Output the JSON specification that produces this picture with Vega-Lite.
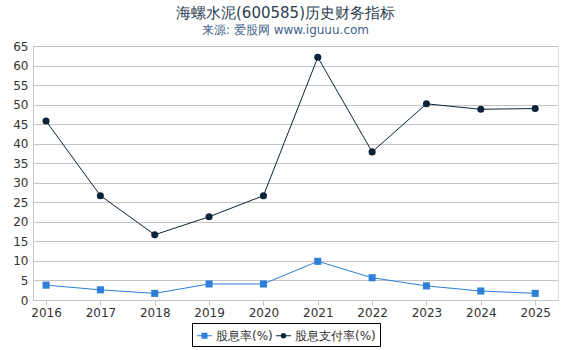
{
  "$schema": "https://vega.github.io/schema/vega-lite/v6.json",
  "width": 525,
  "height": 254,
  "autosize": {"type": "none"},
  "padding": {"left": 33, "top": 46, "right": 12, "bottom": 50},
  "background": "#ffffff",
  "title": {
    "text": "海螺水泥(600585)历史财务指标",
    "subtitle": "来源: 爱股网 www.iguuu.com",
    "anchor": "middle",
    "dx": -10,
    "offset": 4,
    "font": "DejaVu Sans",
    "fontSize": 15,
    "fontWeight": "normal",
    "color": "#2d3e50",
    "subtitleFont": "DejaVu Sans",
    "subtitleFontSize": 12,
    "subtitleColor": "#3e5f8a",
    "subtitlePadding": 4
  },
  "data": {
    "values": [
      {"year": 2016, "series": "股息率(%)", "value": 3.8},
      {"year": 2017, "series": "股息率(%)", "value": 2.6},
      {"year": 2018, "series": "股息率(%)", "value": 1.7},
      {"year": 2019, "series": "股息率(%)", "value": 4.1},
      {"year": 2020, "series": "股息率(%)", "value": 4.1},
      {"year": 2021, "series": "股息率(%)", "value": 9.9},
      {"year": 2022, "series": "股息率(%)", "value": 5.7},
      {"year": 2023, "series": "股息率(%)", "value": 3.6},
      {"year": 2024, "series": "股息率(%)", "value": 2.3},
      {"year": 2025, "series": "股息率(%)", "value": 1.7},
      {"year": 2016, "series": "股息支付率(%)", "value": 45.8},
      {"year": 2017, "series": "股息支付率(%)", "value": 26.7},
      {"year": 2018, "series": "股息支付率(%)", "value": 16.7},
      {"year": 2019, "series": "股息支付率(%)", "value": 21.3},
      {"year": 2020, "series": "股息支付率(%)", "value": 26.7},
      {"year": 2021, "series": "股息支付率(%)", "value": 62.1},
      {"year": 2022, "series": "股息支付率(%)", "value": 37.9},
      {"year": 2023, "series": "股息支付率(%)", "value": 50.2},
      {"year": 2024, "series": "股息支付率(%)", "value": 48.8},
      {"year": 2025, "series": "股息支付率(%)", "value": 49.0}
    ]
  },
  "encoding": {
    "x": {
      "field": "year",
      "type": "quantitative",
      "scale": {"domain": [2015.76, 2025.42], "nice": false, "zero": false},
      "axis": {
        "title": null,
        "values": [2016, 2017, 2018, 2019, 2020, 2021, 2022, 2023, 2024, 2025],
        "format": "d",
        "grid": false,
        "domainColor": "#c8c8c8",
        "tickColor": "#c8c8c8",
        "tickSize": 5,
        "labelFont": "DejaVu Sans",
        "labelFontSize": 12,
        "labelColor": "#333333",
        "labelPadding": 2,
        "labelFlush": false
      }
    },
    "y": {
      "field": "value",
      "type": "quantitative",
      "scale": {"domain": [0, 65], "nice": false},
      "axis": {
        "title": null,
        "values": [0, 5, 10, 15, 20, 25, 30, 35, 40, 45, 50, 55, 60, 65],
        "grid": true,
        "gridColor": "#c4c4c4",
        "domainColor": "#c8c8c8",
        "ticks": false,
        "labelFont": "DejaVu Sans",
        "labelFontSize": 12,
        "labelColor": "#333333",
        "labelPadding": 5
      }
    }
  },
  "layer": [
    {
      "transform": [{"filter": "datum.series === '股息率(%)'"}],
      "mark": {"type": "line", "strokeWidth": 1, "color": "#2f7ed8"},
      "encoding": {}
    },
    {
      "transform": [{"filter": "datum.series === '股息支付率(%)'"}],
      "mark": {"type": "line", "strokeWidth": 1, "color": "#0d233a"},
      "encoding": {}
    },
    {
      "transform": [{"filter": "datum.series === '股息率(%)'"}],
      "mark": {"type": "point", "filled": true, "opacity": 1, "size": 50, "shape": "square", "color": "#2f7ed8"},
      "encoding": {}
    },
    {
      "transform": [{"filter": "datum.series === '股息支付率(%)'"}],
      "mark": {"type": "point", "filled": true, "opacity": 1, "size": 50, "shape": "circle", "color": "#0d233a"},
      "encoding": {}
    },
    {
      "mark": {"type": "point", "filled": true, "size": 0, "opacity": 1},
      "encoding": {
        "color": {
          "field": "series",
          "type": "nominal",
          "scale": {"domain": ["股息率(%)", "股息支付率(%)"], "range": ["#2f7ed8", "#0d233a"]},
          "legend": {
            "title": null,
            "orient": "none",
            "legendX": 159,
            "legendY": 277,
            "direction": "horizontal",
            "strokeColor": "#000000",
            "padding": 4,
            "labelFont": "DejaVu Sans",
            "labelFontSize": 12,
            "labelColor": "#333333",
            "symbolSize": 225,
            "symbolOpacity": 1,
            "columnPadding": 0,
            "labelOffset": 3
          }
        },
        "shape": {
          "field": "series",
          "type": "nominal",
          "scale": {"domain": ["股息率(%)", "股息支付率(%)"], "range": ["M-1,-0.07H1V0.07H-1ZM-0.4,-0.4H0.4V0.4H-0.4Z", "M-1,-0.07H1V0.07H-1ZM0.38,0A0.38,0.38,0,1,1,-0.38,0A0.38,0.38,0,1,1,0.38,0Z"]}
        }
      }
    }
  ]
}
